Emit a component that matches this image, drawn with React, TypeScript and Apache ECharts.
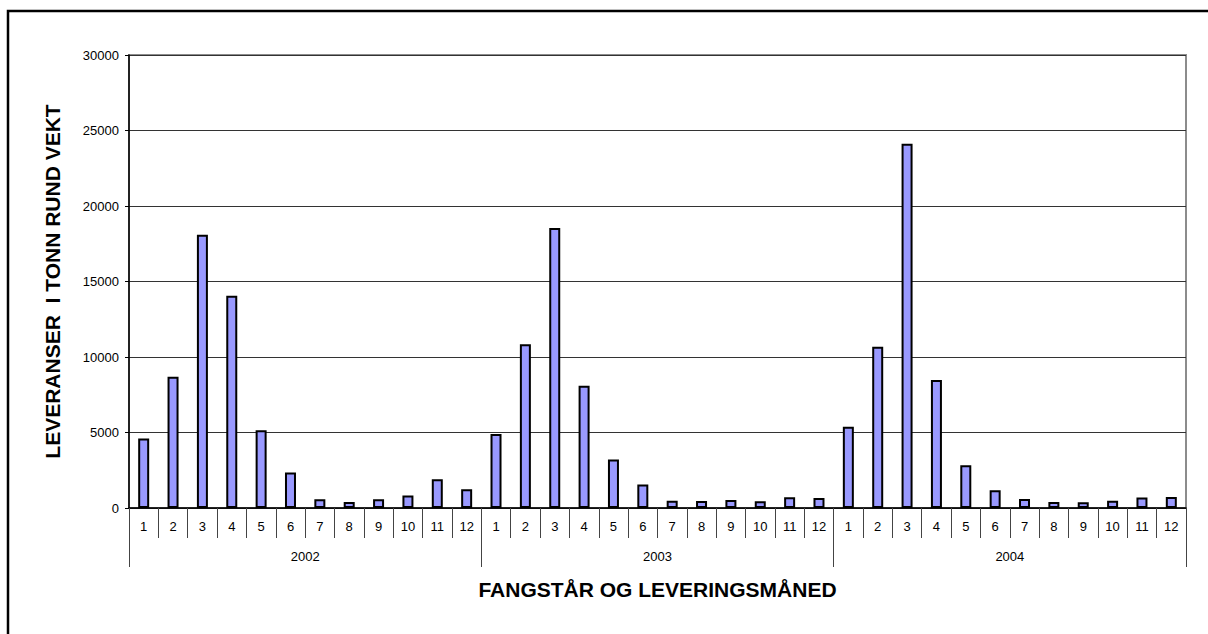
import React, { useEffect, useRef } from "react";
import * as echarts from "echarts";

const years = ["2002", "2003", "2004"];
const months = ["1", "2", "3", "4", "5", "6", "7", "8", "9", "10", "11", "12"];
const values2002 = [4600, 8700, 18100, 14050, 5150, 2350, 580, 400, 580, 820, 1900, 1250];
const values2003 = [4900, 10850, 18550, 8100, 3220, 1550, 480, 460, 530, 450, 720, 660];
const values2004 = [5380, 10680, 24120, 8480, 2830, 1180, 600, 400, 380, 480, 690, 730];
const yTicks = { min: 0, max: 30000, interval: 5000 };

const categories: string[] = [];
years.forEach((y) => months.forEach((m) => categories.push(y + "-" + m)));
const allValues = [...values2002, ...values2003, ...values2004];

export default function App() {
  const ref = useRef<HTMLDivElement>(null);
  useEffect(() => {
    if (!ref.current) return;
    const chart = echarts.init(ref.current, null, { renderer: "svg" });
    const font = "'Liberation Sans', Arial, sans-serif";
    chart.setOption({
      animation: false,
      backgroundColor: "#ffffff",
      textStyle: { fontFamily: font },
      graphic: [
        {
          type: "rect",
          shape: { x: 8, y: 11, width: 1400, height: 900 },
          style: { fill: "none", stroke: "#000", lineWidth: 2.5 },
          silent: true,
          z: 100,
        },
      ],
      grid: {
        left: 129,
        right: 22,
        top: 55,
        bottom: 126,
        show: true,
        borderColor: "#8c8c8c",
        borderWidth: 2,
        backgroundColor: "transparent",
      },
      xAxis: [
        {
          type: "category",
          data: categories,
          position: "bottom",
          boundaryGap: true,
          axisLine: { show: true, lineStyle: { color: "#000", width: 1.5 } },
          axisTick: { show: true, interval: 0, length: 30, lineStyle: { color: "#444", width: 1 } },
          axisLabel: {
            interval: 0,
            margin: 12,
            fontSize: 13,
            color: "#000",
            fontFamily: font,
            formatter: (v: string) => v.split("-")[1],
          },
          splitLine: { show: false },
        },
        {
          type: "category",
          data: years,
          position: "bottom",
          boundaryGap: true,
          axisLine: { show: false },
          axisTick: { show: true, interval: 0, length: 59, lineStyle: { color: "#444", width: 1 } },
          axisLabel: { interval: 0, margin: 42, fontSize: 13, color: "#000", fontFamily: font },
          name: "FANGSTÅR OG LEVERINGSMÅNED",
          nameLocation: "middle",
          nameGap: 71,
          nameTextStyle: { fontSize: 21, fontWeight: "bold", color: "#000", fontFamily: font, verticalAlign: "top" },
          splitLine: { show: false },
        },
      ],
      yAxis: {
        type: "value",
        min: yTicks.min,
        max: yTicks.max,
        interval: yTicks.interval,
        axisLine: { show: true, lineStyle: { color: "#000", width: 1.5 } },
        axisTick: { show: true, length: 4, lineStyle: { color: "#000" } },
        axisLabel: { margin: 10, fontSize: 13, color: "#000", fontFamily: font, formatter: (v: number) => String(v) },
        splitLine: { show: true, lineStyle: { color: "#333", width: 1 } },
        name: "LEVERANSER  I TONN RUND VEKT",
        nameLocation: "middle",
        nameGap: 66,
        nameRotate: 90,
        nameTextStyle: { fontSize: 21, fontWeight: "bold", color: "#000", fontFamily: font },
      },
      series: [
        {
          type: "bar",
          xAxisIndex: 0,
          data: allValues,
          barWidth: 11,
          itemStyle: { color: "#9999ff", borderColor: "#000", borderWidth: 2 },
        },
      ],
    });
    return () => chart.dispose();
  }, []);
  return (
    <div
      ref={ref}
      style={{ position: "fixed", left: 0, top: 0, width: 1208, height: 634 }}
    />
  );
}
